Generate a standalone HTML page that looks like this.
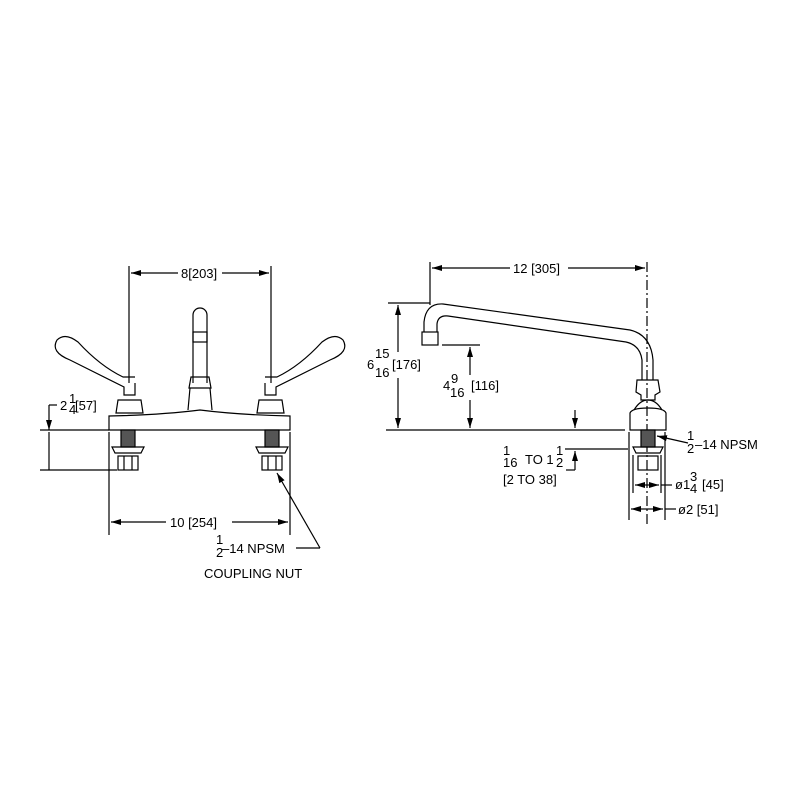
<!DOCTYPE html>
<html><head><style>body{margin:0;background:#fff}svg{display:block}text{font-family:"Liberation Sans",sans-serif;font-size:13px;fill:#000}</style></head><body>
<svg width="800" height="800" viewBox="0 0 800 800" fill="none" stroke="#000" stroke-width="1.2">
<defs><marker id="a" markerWidth="10" markerHeight="6" refX="10" refY="3" orient="auto-start-reverse" markerUnits="userSpaceOnUse"><path d="M0,0L10,3L0,6z" fill="#000" stroke="none"/></marker></defs>
<!-- LEFT VIEW -->
<line x1="129" y1="266" x2="129" y2="383"/><line x1="271" y1="266" x2="271" y2="383"/>
<line x1="131" y1="273" x2="178" y2="273" marker-start="url(#a)"/><line x1="222" y1="273" x2="269" y2="273" marker-end="url(#a)"/>
<text x="181" y="278" stroke="none">8[203]</text>
<path d="M193,383 V315 A7,7 0 0 1 207,315 V383"/>
<rect x="193" y="332" width="14" height="10"/>
<path d="M189,388 L191,377 H209 L211,388 Z"/>
<path d="M190,388 L188,410 M210,388 L212,410"/>
<path d="M109,430 V416 Q160,415 200,410 Q240,415 290,416 V430 Z"/>
<path d="M135,383 V395 H124 V387 Q90,370 70,360 Q50,352 57,340 Q65,332 78,342 Q100,366 123,377 H135"/>
<path d="M265,383 V395 H276 V387 Q310,370 330,360 Q350,352 343,340 Q335,332 322,342 Q300,366 277,377 H265"/>
<path d="M116,413 L118,400 H141 L143,413 Z"/><path d="M257,413 L259,400 H282 L284,413 Z"/>
<rect x="121" y="430" width="14" height="17" fill="#555"/><rect x="265" y="430" width="14" height="17" fill="#555"/>
<path d="M112,447 H144 L141,453 H115 Z"/><path d="M256,447 H288 L285,453 H259 Z"/>
<rect x="118" y="456" width="20" height="14"/><rect x="262" y="456" width="20" height="14"/>
<line x1="124" y1="456" x2="124" y2="470"/><line x1="132" y1="456" x2="132" y2="470"/>
<line x1="268" y1="456" x2="268" y2="470"/><line x1="276" y1="456" x2="276" y2="470"/>
<line x1="40" y1="430" x2="109" y2="430"/><line x1="40" y1="470" x2="117" y2="470"/>
<line x1="49" y1="405" x2="49" y2="430" marker-end="url(#a)"/><line x1="49" y1="470" x2="49" y2="432"/>
<line x1="49" y1="405" x2="57" y2="405"/>
<text x="60" y="410" stroke="none">2</text><text x="69" y="403" stroke="none" font-size="9">1</text><text x="69" y="414" stroke="none" font-size="9">4</text><text x="75" y="410" stroke="none">[57]</text>
<line x1="109" y1="432" x2="109" y2="535"/><line x1="290" y1="432" x2="290" y2="535"/>
<line x1="111" y1="522" x2="166" y2="522" marker-start="url(#a)"/><line x1="232" y1="522" x2="288" y2="522" marker-end="url(#a)"/>
<text x="170" y="527" stroke="none">10 [254]</text>
<line x1="320" y1="548" x2="277" y2="473" marker-end="url(#a)"/><line x1="320" y1="548" x2="296" y2="548"/>
<text x="216" y="544" stroke="none" font-size="9">1</text><text x="216" y="557" stroke="none" font-size="9">2</text>
<text x="222" y="553" stroke="none">–14 NPSM</text>
<text x="204" y="578" stroke="none">COUPLING NUT</text>
<!-- RIGHT VIEW -->
<line x1="386" y1="430" x2="625" y2="430"/>
<line x1="430" y1="262" x2="430" y2="305"/>
<line x1="647" y1="262" x2="647" y2="525" stroke-dasharray="10,3,2,3"/>
<line x1="432" y1="268" x2="510" y2="268" marker-start="url(#a)"/><line x1="568" y1="268" x2="645" y2="268" marker-end="url(#a)"/>
<text x="513" y="273" stroke="none">12 [305]</text>
<path d="M424,332 V322 Q426,303 443,304 L630,330 Q651,335 653,360 V380"/>
<path d="M437,332 V324 Q438,315 448,316 L626,342 Q640,345 642,360 V380"/>
<rect x="422" y="332" width="16" height="13"/>
<path d="M636,392 L637,380 H658 L660,392 L655,395 V400 H641 V395 Z"/>
<path d="M634,410 Q640,400 648,400 Q656,400 662,410"/>
<path d="M630,430 V413 Q632,408 648,408 Q664,408 666,413 V430 Z"/>
<rect x="641" y="430" width="14" height="17" fill="#555"/>
<path d="M633,447 H663 L660,453 H636 Z"/>
<rect x="638" y="456" width="20" height="14"/>
<line x1="388" y1="303" x2="430" y2="303"/>
<line x1="398" y1="305" x2="398" y2="352" marker-start="url(#a)"/><line x1="398" y1="378" x2="398" y2="428" marker-end="url(#a)"/>
<text x="367" y="369" stroke="none">6</text><text x="375" y="358" stroke="none" font-size="9">15</text><text x="375" y="377" stroke="none" font-size="9">16</text><text x="392" y="369" stroke="none" style="paint-order:stroke" >[176]</text>
<line x1="442" y1="345" x2="480" y2="345"/>
<line x1="470" y1="347" x2="470" y2="375" marker-start="url(#a)"/><line x1="470" y1="400" x2="470" y2="428" marker-end="url(#a)"/>
<text x="443" y="390" stroke="none">4</text><text x="451" y="383" stroke="none" font-size="10">9</text><text x="450" y="397" stroke="none" font-size="10">16</text><text x="471" y="390" stroke="none">[116]</text>
<line x1="575" y1="410" x2="575" y2="428" marker-end="url(#a)"/>
<line x1="565" y1="449" x2="628" y2="449"/>
<line x1="575" y1="470" x2="575" y2="451" marker-end="url(#a)"/><line x1="566" y1="470" x2="575" y2="470"/>
<text x="503" y="455" stroke="none" font-size="10">1</text><text x="503" y="467" stroke="none" font-size="10">16</text>
<text x="525" y="464" stroke="none">TO 1</text><text x="556" y="455" stroke="none" font-size="10">1</text><text x="556" y="467" stroke="none" font-size="10">2</text>
<text x="503" y="484" stroke="none">[2 TO 38]</text>
<line x1="629" y1="432" x2="629" y2="520"/><line x1="665" y1="432" x2="665" y2="520"/>
<line x1="633" y1="455" x2="633" y2="493"/><line x1="661" y1="455" x2="661" y2="493"/>
<line x1="635" y1="485" x2="647" y2="485" marker-start="url(#a)"/><line x1="647" y1="485" x2="659" y2="485" marker-end="url(#a)"/><line x1="661" y1="485" x2="672" y2="485"/>
<text x="675" y="489" stroke="none">ø1</text><text x="690" y="481" stroke="none" font-size="9">3</text><text x="690" y="493" stroke="none" font-size="9">4</text><text x="702" y="489" stroke="none">[45]</text>
<line x1="631" y1="509" x2="647" y2="509" marker-start="url(#a)"/><line x1="647" y1="509" x2="663" y2="509" marker-end="url(#a)"/><line x1="665" y1="509" x2="676" y2="509"/>
<text x="678" y="514" stroke="none">ø2 [51]</text>
<line x1="688" y1="443" x2="657" y2="436" marker-end="url(#a)"/>
<text x="687" y="440" stroke="none" font-size="9">1</text><text x="687" y="453" stroke="none" font-size="9">2</text>
<text x="695" y="449" stroke="none">–14 NPSM</text>
</svg>
</body></html>
